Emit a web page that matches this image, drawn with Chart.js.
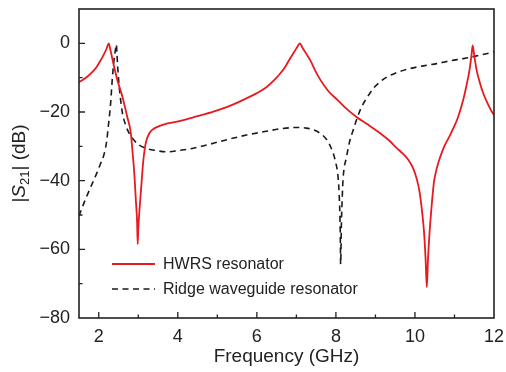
<!DOCTYPE html>
<html>
<head>
<meta charset="utf-8">
<script src="https://cdn.jsdelivr.net/npm/chart.js@4.4.1/dist/chart.umd.min.js"></script>
<style>
  html, body { margin: 0; padding: 0; background: #fff; }
  canvas { display: block; }
</style>
</head>
<body>
<canvas id="c" width="506" height="372"></canvas>
<script>
// HWRS resonator transmission |S21| (dB) vs frequency (GHz)
const hwrsFreq = [1.5, 1.6, 1.7, 1.84, 1.95, 2.05, 2.13, 2.2, 2.25, 2.3, 2.35, 2.39, 2.47, 2.6, 2.72, 2.81, 2.85, 2.9, 2.94, 2.97, 2.985,
  3.0, 3.04, 3.08, 3.12, 3.16, 3.2, 3.28, 3.35, 3.6, 4.06, 4.5, 4.9, 5.3, 5.74, 6.0, 6.25, 6.45, 6.59, 6.72, 6.84, 6.95, 7.03, 7.09,
  7.15, 7.25, 7.35, 7.48, 7.6, 7.8, 8.05, 8.3, 8.53, 8.8, 9.12, 9.35, 9.54, 9.7, 9.83, 9.95, 10.05, 10.12, 10.18, 10.23, 10.27, 10.3,
  10.33, 10.37, 10.41, 10.48, 10.55, 10.63, 10.75, 10.85, 10.97, 11.08, 11.22, 11.3, 11.38, 11.43, 11.46, 11.5, 11.56, 11.64, 11.73, 11.85, 11.97, 12.0];
const hwrsS21 = [-11.3, -10.6, -9.8, -8.3, -6.8, -4.9, -3.2, -1.5, 0, -2.2, -4.8, -6.9, -10.7, -15.6, -21.4, -26, -31, -38, -46, -52, -58.5,
  -54, -47, -41, -35, -31, -28.5, -26.2, -25.2, -23.8, -22.6, -21.2, -19.9, -18.3, -16, -14.5, -12.7, -10.6, -8.8, -6.8, -4.4, -2.4, -0.9, 0,
  -1.2, -3.0, -4.9, -8.0, -10.5, -13.8, -16.6, -19.4, -21.5, -23.6, -26.2, -28.3, -30.5, -32.2, -33.9, -36.3, -39.7, -43.5, -49, -55, -63, -71,
  -63, -55, -49, -40.5, -36.5, -33.4, -29.8, -27.6, -24.8, -21.8, -16.5, -12.5, -7.8, -3.5, -0.6, -3.5, -7.8, -11.4, -14.6, -17.8, -20.4, -20.8];

// Ridge waveguide resonator transmission |S21| (dB) vs frequency (GHz)
const ridgeFreq = [1.5, 1.65, 1.84, 1.95, 2.05, 2.13, 2.2, 2.24, 2.3, 2.34, 2.38, 2.42, 2.445, 2.46, 2.48, 2.51, 2.55, 2.6, 2.68, 2.77, 2.9,
  3.02, 3.2, 3.44, 3.72, 4.03, 4.28, 4.6, 4.9, 5.3, 5.74, 6.2, 6.59, 7.01, 7.25, 7.43, 7.6, 7.77, 7.88, 7.98, 8.06, 8.09, 8.11, 8.12,
  8.14, 8.16, 8.18, 8.27, 8.36, 8.44, 8.53, 8.65, 8.8, 8.95, 9.1, 9.29, 9.5, 9.79, 10.05, 10.3, 10.55, 10.89, 11.2, 11.39, 11.7, 12.0];
const ridgeS21 = [-50.3, -45.8, -40.7, -37.8, -34.9, -32.5, -28.5, -24.3, -17.5, -10.7, -5.5, -2.0, -0.3, -3, -7, -11.7, -16.2, -20.4, -23.8, -26.2, -28.3,
  -29.6, -30.6, -31.2, -31.6, -31.2, -30.8, -30.0, -29.1, -27.9, -26.7, -25.7, -24.9, -24.5, -24.7, -25.2, -26.2, -28.1, -30.5, -34, -39.7, -46, -55, -64.3,
  -52, -45, -39.7, -33, -28, -25.2, -22, -18.5, -15.6, -13.1, -11.4, -9.8, -8.7, -7.6, -6.9, -6.4, -5.9, -5.1, -4.5, -4.1, -3.3, -2.5];

// Axis ticks
const xMajorTicks = [2, 4, 6, 8, 10, 12];
const xMinorTicks = [3, 5, 7, 9, 11];
const yMajorTicks = [0, -20, -40, -60, -80];
const yMinorTicks = [-10, -30, -50, -70];

const seriesNames = ['HWRS resonator', 'Ridge waveguide resonator'];

const FONT = '"Liberation Sans", Arial, Helvetica, sans-serif';
const INK = '#222222';

const toPoints = (xs, ys) => xs.map((x, i) => ({ x: x, y: ys[i] }));

// Frame, inward ticks, rotated y title and in-plot legend
const decorations = {
  id: 'decorations',
  afterDraw(chart) {
    const ctx = chart.ctx;
    const a = chart.chartArea;
    const xs = chart.scales.x, ys = chart.scales.y;
    ctx.save();
    ctx.strokeStyle = INK;
    ctx.lineWidth = 1.6;
    ctx.strokeRect(a.left, a.top, a.right - a.left, a.bottom - a.top);

    ctx.lineWidth = 1.3;
    ctx.beginPath();
    const tickX = (v, len) => { const p = xs.getPixelForValue(v); ctx.moveTo(p, a.bottom); ctx.lineTo(p, a.bottom - len); };
    const tickY = (v, len) => { const p = ys.getPixelForValue(v); ctx.moveTo(a.left, p); ctx.lineTo(a.left + len, p); };
    xMajorTicks.forEach(v => { if (v < xs.max) tickX(v, 6); });
    xMinorTicks.forEach(v => tickX(v, 3.5));
    yMajorTicks.forEach(v => { if (v > ys.min) tickY(v, 6); });
    yMinorTicks.forEach(v => tickY(v, 3.5));
    ctx.stroke();

    // y-axis title: |S21| (dB) with italic S and subscript 21
    const parts = [
      { t: '|', f: '19px ' + FONT, dy: 0 },
      { t: 'S', f: 'italic 19px ' + FONT, dy: 0 },
      { t: '21', f: '13px ' + FONT, dy: 5 },
      { t: '| (dB)', f: '19px ' + FONT, dy: 0 }
    ];
    let total = 0;
    parts.forEach(p => { ctx.font = p.f; p.w = ctx.measureText(p.t).width; total += p.w; });
    ctx.translate(20, (a.top + a.bottom) / 2);
    ctx.rotate(-Math.PI / 2);
    ctx.fillStyle = INK;
    ctx.textBaseline = 'middle';
    ctx.textAlign = 'left';
    let cx = -total / 2;
    parts.forEach(p => { ctx.font = p.f; ctx.fillText(p.t, cx, p.dy); cx += p.w; });
    ctx.restore();

    // legend
    ctx.save();
    const lx0 = xs.getPixelForValue(1.5) + 33, lx1 = lx0 + 43;
    const rows = [264, 289];
    chart.data.datasets.forEach((ds, i) => {
      ctx.strokeStyle = ds.borderColor;
      ctx.lineWidth = ds.borderWidth;
      ctx.setLineDash(ds.borderDash || []);
      ctx.beginPath();
      ctx.moveTo(lx0, rows[i]);
      ctx.lineTo(lx1, rows[i]);
      ctx.stroke();
      ctx.setLineDash([]);
      ctx.fillStyle = INK;
      ctx.font = '16px ' + FONT;
      ctx.textBaseline = 'middle';
      ctx.fillText(ds.label, lx1 + 8, rows[i] + 1);
    });
    ctx.restore();
  }
};

const noEdgePadding = s => { s.paddingLeft = 0; s.paddingRight = 0; s.paddingTop = 0; s.paddingBottom = 0; };

new Chart(document.getElementById('c'), {
  type: 'line',
  data: {
    datasets: [
      {
        label: seriesNames[0],
        data: toPoints(hwrsFreq, hwrsS21),
        borderColor: '#e8191f',
        borderWidth: 1.8,
        pointRadius: 0,
        cubicInterpolationMode: 'monotone'
      },
      {
        label: seriesNames[1],
        data: toPoints(ridgeFreq, ridgeS21),
        borderColor: '#1a1a1a',
        borderWidth: 1.6,
        borderDash: [6, 4.5],
        pointRadius: 0,
        cubicInterpolationMode: 'monotone'
      }
    ]
  },
  options: {
    responsive: false,
    animation: false,
    devicePixelRatio: 1,
    layout: { padding: { left: 0, top: 9, right: 12, bottom: 0 } },
    plugins: { legend: { display: false }, tooltip: { enabled: false } },
    scales: {
      x: {
        type: 'linear',
        min: 1.5,
        max: 12,
        afterBuildTicks: s => { s.ticks = xMajorTicks.map(v => ({ value: v })); },
        afterFit: s => { s.height = 54; noEdgePadding(s); },
        grid: { display: false, drawTicks: false },
        border: { display: false },
        ticks: { color: INK, font: { family: FONT, size: 18 }, padding: 8, maxRotation: 0 },
        title: { display: true, text: 'Frequency (GHz)', color: INK, font: { family: FONT, size: 19 }, padding: { top: 0, bottom: 4 } }
      },
      y: {
        type: 'linear',
        min: -80,
        max: 10,
        afterBuildTicks: s => { s.ticks = yMajorTicks.map(v => ({ value: v })); },
        afterFit: s => { s.width = 79; noEdgePadding(s); },
        grid: { display: false, drawTicks: false },
        border: { display: false },
        ticks: { color: INK, font: { family: FONT, size: 18 }, padding: 9, callback: v => (v < 0 ? '\u2212' + Math.abs(v) : String(v)) }
      }
    }
  },
  plugins: [decorations]
});
</script>
</body>
</html>
